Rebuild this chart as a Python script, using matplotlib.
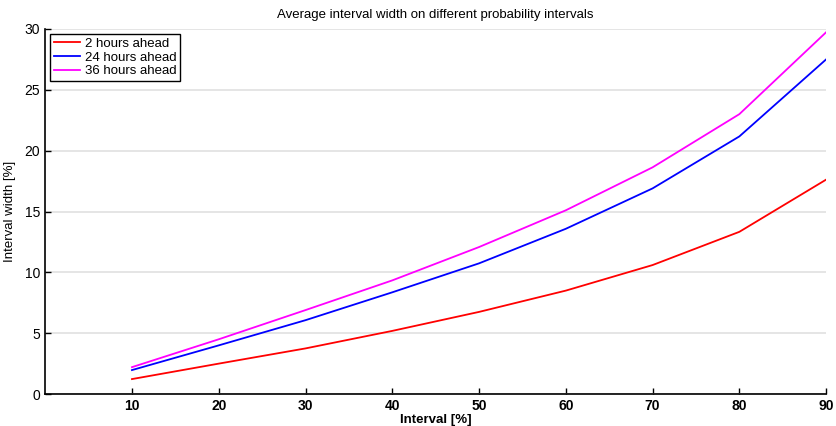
import matplotlib
matplotlib.use("Agg")
import matplotlib.pyplot as plt

plt.rcParams['font.family'] = ['Liberation Sans', 'DejaVu Sans']

interval = [10, 20, 30, 40, 50, 60, 70, 80, 90]
h2 = [1.23, 2.5, 3.75, 5.19, 6.75, 8.5, 10.6, 13.33, 17.62]
h24 = [1.97, 4.0, 6.07, 8.36, 10.74, 13.58, 16.9, 21.17, 27.5]
h36 = [2.21, 4.5, 6.9, 9.34, 12.08, 15.1, 18.63, 23.0, 29.73]

fig = plt.figure(figsize=(8.37, 4.26), dpi=100)
ax = fig.add_axes([0.054, 0.075, 0.933, 0.857])

ax.plot(interval, h2, color='#ff0000', lw=1.3, label='2 hours ahead')
ax.plot(interval, h24, color='#0000ff', lw=1.3, label='24 hours ahead')
ax.plot(interval, h36, color='#ff00ff', lw=1.3, label='36 hours ahead')

ax.set_xlim(0, 90)
ax.set_ylim(0, 30)
ax.set_xticks(interval)
ax.set_yticks([0, 5, 10, 15, 20, 25, 30])
ax.yaxis.grid(True, color='#e0e0e0', lw=1.2)
ax.set_axisbelow(True)
ax.spines['top'].set_visible(False)
ax.spines['right'].set_visible(False)
ax.spines['left'].set_linewidth(1.2)
ax.spines['bottom'].set_linewidth(1.2)
ax.tick_params(direction='in', length=4, width=1, labelsize=10)
for lab in ax.get_xticklabels():
    lab.set_fontweight('bold')

ax.set_title('Average interval width on different probability intervals', fontsize=9.5, pad=8)
ax.set_xlabel('Interval [%]', fontsize=9.5, fontweight='bold', labelpad=1)
ax.set_ylabel('Interval width [%]', fontsize=9.5, labelpad=6)

leg = ax.legend(loc='upper left', fontsize=9.5, fancybox=False, framealpha=1,
                edgecolor='black', handlelength=2.0, handletextpad=0.35,
                borderaxespad=0.35, labelspacing=0.12, borderpad=0.3)
leg.get_frame().set_linewidth(1)

plt.savefig('out.png', dpi=100)
plt.close(fig)
